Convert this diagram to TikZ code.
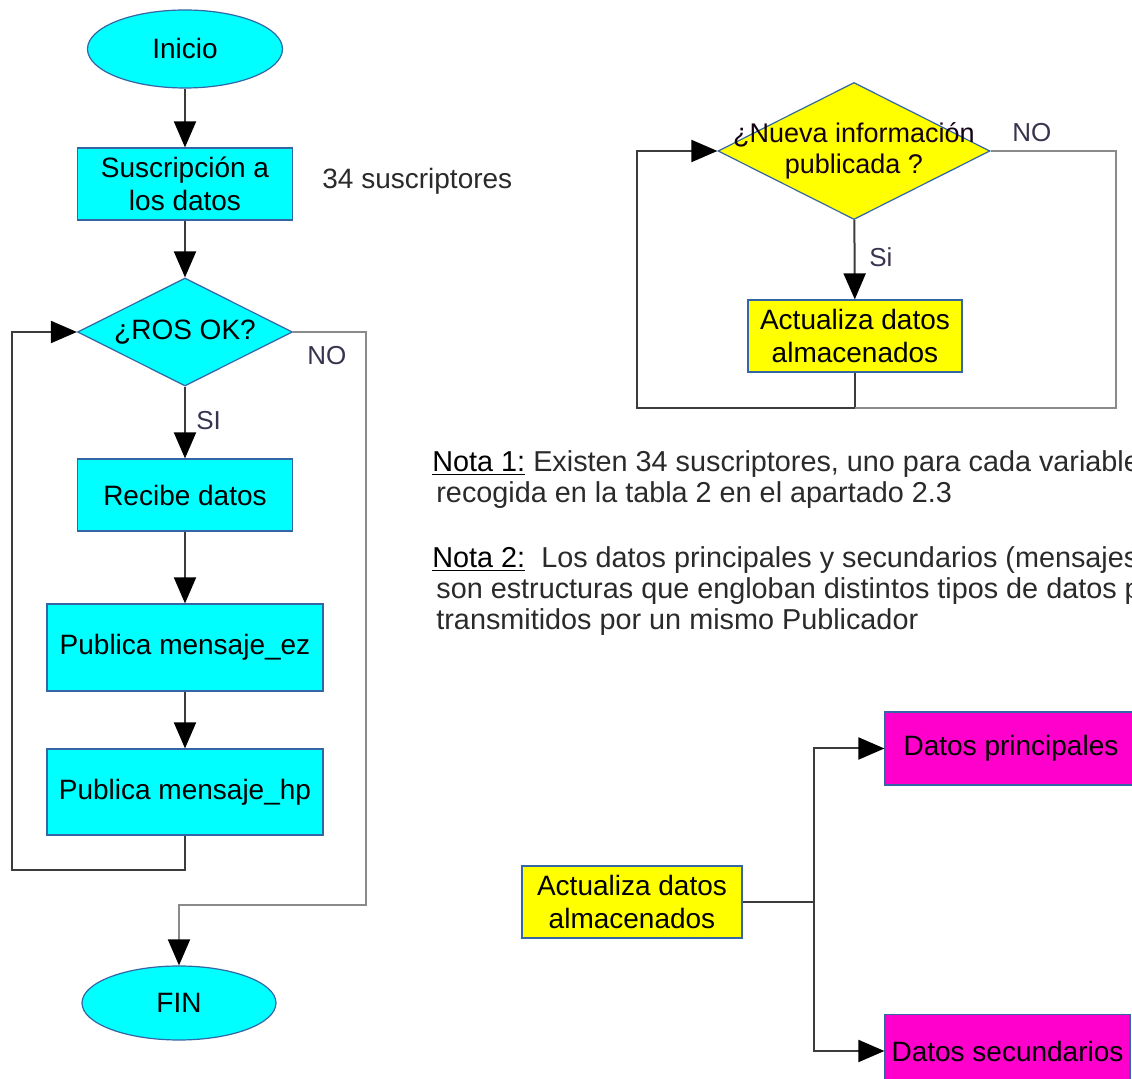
\documentclass[tikz,border=0pt]{standalone}
\usepackage{fontspec}
\setmainfont{Liberation Sans}
\usetikzlibrary{shapes.geometric,arrows.meta}
\definecolor{cyanfill}{HTML}{00FFFF}
\definecolor{yellowfill}{HTML}{FFFF00}
\definecolor{magentafill}{HTML}{FF00CC}
\definecolor{edgeblue}{HTML}{3465A4}
\definecolor{wire}{HTML}{3C3C3C}
\definecolor{wirelight}{HTML}{8A8A8A}
\definecolor{labelc}{HTML}{3A3350}
\definecolor{notec}{HTML}{2A2A2A}
\begin{document}
\begin{tikzpicture}[x=0.5pt,y=-0.5pt,
  font=\fontsize{14}{16.5}\selectfont,
  shapebase/.style={draw=edgeblue, line width=0.6pt, inner sep=0pt, align=center},
  term/.style={shapebase, ellipse, fill=cyanfill},
  cbox/.style={shapebase, rectangle, fill=cyanfill},
  cdec/.style={shapebase, diamond, fill=cyanfill},
  ybox/.style={shapebase, rectangle, fill=yellowfill},
  ydec/.style={shapebase, diamond, fill=yellowfill},
  mbox/.style={shapebase, rectangle, fill=magentafill},
  lbl/.style={text=labelc, font=\fontsize{13}{15}\selectfont, inner sep=0pt},
  plain/.style={text=notec, inner sep=0pt},
  note/.style={text=notec, inner sep=0pt, align=left, anchor=north west,
    font=\fontsize{14.4}{15.5}\selectfont},
  conn/.style={draw=wire, line width=1pt},
  connlight/.style={draw=wirelight, line width=1pt},
  arr/.style={conn, -{Triangle[length=13pt,width=11pt,color=black]}},
  arrlight/.style={connlight, -{Triangle[length=13pt,width=11pt,color=black]}}
]
\useasboundingbox (0,0) rectangle (1132,1079);
\clip (0,0) rectangle (1132,1079);

% ---------- main flow ----------
\node[term, minimum width=97.5pt, minimum height=39pt] (inicio) at (185,49) {Inicio};
\node[cbox, minimum width=107.5pt, minimum height=36pt] (susc) at (185,184) {Suscripción a\\los datos};
\node[plain, anchor=west] (nsusc) at (322,181) {34 suscriptores};
\node[cdec, minimum width=107.5pt, minimum height=54pt, label={center:¿ROS OK?}] (ros) at (185,332) {};
\node[cbox, minimum width=107.5pt, minimum height=36pt] (recibe) at (185,495) {Recibe datos};
\node[cbox, minimum width=138pt, minimum height=43.5pt] (pubez) at (185,647.5) {Publica mensaje\_ez};
\node[cbox, minimum width=138pt, minimum height=43pt] (pubhp) at (185,792) {Publica mensaje\_hp};
\node[term, minimum width=97pt, minimum height=37pt] (fin) at (179,1003) {FIN};

\draw[arr] (inicio) -- (susc);
\draw[arr] (susc) -- (ros);
\draw[arr] (ros) -- (recibe);
\node[lbl, anchor=west] (si1) at (196,421) {SI};
\draw[arr] (recibe) -- (pubez);
\draw[arr] (pubez) -- (pubhp);

% loop back to the decision
\coordinate (loopL) at (12,870);
\draw[arr] (pubhp.south) |- (loopL) |- (ros.west);

% exit branch
\coordinate (exitR) at (366,905);
\draw[arrlight] (ros.east) -| (exitR) -| (fin.north);
\node[lbl, anchor=west] (no1) at (307,356) {NO};

% ---------- update loop ----------
\node[ydec, minimum width=136pt, minimum height=68.5pt,
  label={[align=center, text=black!85!violet, font=\fontsize{13.5}{15.5}\selectfont]center:¿Nueva información\\publicada ?}] (nueva) at (854,151) {};
\node[ybox, minimum width=107pt, minimum height=36pt] (act1) at (855,336) {Actualiza datos\\almacenados};

\draw[arr] (nueva) -- (act1);
\node[lbl, anchor=west] (si2) at (869,257) {Si};

\coordinate (loopR) at (637,408);
\draw[arr] (act1.south) |- (loopR) |- (nueva.west);

\coordinate (noR) at (1116,408);
\draw[connlight] (nueva.east) -| (noR) -- (noR -| act1.south);
\node[lbl, anchor=west] (no2) at (1012,133) {NO};

% ---------- notes ----------
\node[note] (nota1) at (432,450) {\textcolor{black}{\underline{Nota 1:}} Existen 34 suscriptores, uno para cada variable\\
  \hspace*{2pt}recogida en la tabla 2 en el apartado 2.3};
\node[note] (nota2) at (432,546) {\textcolor{black}{\underline{Nota 2:}}\ \ Los datos principales y secundarios (mensajes\\
  \hspace*{2pt}son estructuras que engloban distintos tipos de datos p\\
  \hspace*{2pt}transmitidos por un mismo Publicador};

% ---------- stored data split ----------
\node[ybox, minimum width=110pt, minimum height=36pt] (act2) at (632,902) {Actualiza datos\\almacenados};
\node[mbox, minimum width=126pt, minimum height=36.5pt] (princ) at (1011,748.5) {Datos principales};
\node[mbox, minimum width=122.5pt, minimum height=36.5pt] (sec) at (1007.5,1051) {Datos secundarios};

\coordinate (split) at (814,902);
\draw[conn, line width=1.4pt] (act2.east) -- (split);
\draw[arr] (split) |- (princ.west);
\draw[arr] (split) |- (sec.west);
\end{tikzpicture}
\end{document}
